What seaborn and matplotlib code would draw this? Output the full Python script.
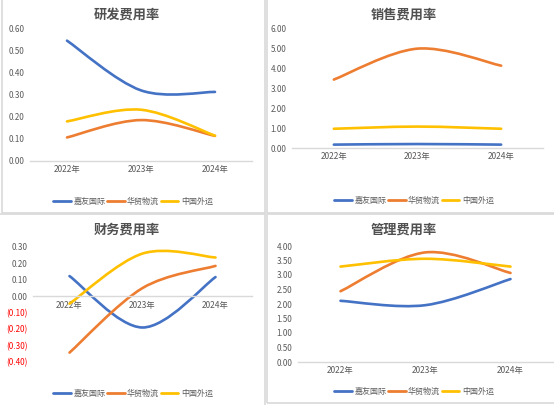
import numpy as np
import pandas as pd
import matplotlib
matplotlib.use("Agg")
import matplotlib.pyplot as plt
import seaborn as sns
from matplotlib.path import Path
from matplotlib.patches import PathPatch, Rectangle
from matplotlib.lines import Line2D

# ---------------- data ----------------
years = ["2022年", "2023年", "2024年"]
companies = ["嘉友国际", "华贸物流", "中国外运"]
colors = ["#4472C4", "#ED7D31", "#FFC000"]

rd_rate = {  # 研发费用率
    "嘉友国际": [0.547, 0.321, 0.314],
    "华贸物流": [0.107, 0.186, 0.114],
    "中国外运": [0.180, 0.233, 0.115],
}
sales_rate = {  # 销售费用率
    "嘉友国际": [0.17, 0.20, 0.17],
    "华贸物流": [3.45, 5.01, 4.15],
    "中国外运": [0.97, 1.08, 0.97],
}
fin_rate = {  # 财务费用率
    "嘉友国际": [0.123, -0.190, 0.117],
    "华贸物流": [-0.343, 0.050, 0.185],
    "中国外运": [-0.045, 0.260, 0.236],
}
mgmt_rate = {  # 管理费用率
    "嘉友国际": [2.11, 1.96, 2.86],
    "华贸物流": [2.44, 3.78, 3.07],
    "中国外运": [3.29, 3.56, 3.29],
}

rd_ticks = [0.0, 0.1, 0.2, 0.3, 0.4, 0.5, 0.6]
sales_ticks = [0, 1, 2, 3, 4, 5, 6]
fin_ticks = [-0.4, -0.3, -0.2, -0.1, 0.0, 0.1, 0.2, 0.3]
mgmt_ticks = [0.0, 0.5, 1.0, 1.5, 2.0, 2.5, 3.0, 3.5, 4.0]

# ---------------- style ----------------
sns.set_theme(style="white")
plt.rcParams["font.family"] = ["Noto Sans CJK SC", "DejaVu Sans"]

W, H = 554, 405
fig = plt.figure(figsize=(W / 100, H / 100), dpi=100)


def fx(px):
    return px / W


def fy(py):
    return 1 - py / H


def smooth_path(x, y):
    pts = np.column_stack([x, y]).astype(float)
    n = len(pts)
    verts = [pts[0]]
    codes = [Path.MOVETO]
    for i in range(n - 1):
        p0 = pts[max(i - 1, 0)]
        p1 = pts[i]
        p2 = pts[i + 1]
        p3 = pts[min(i + 2, n - 1)]
        c1 = p1 + (p2 - p0) / 6.0
        c2 = p2 - (p3 - p1) / 6.0
        verts += [c1, c2, p2]
        codes += [Path.CURVE4] * 3
    return Path(verts, codes)


def fmt(v):
    s = f"{abs(v):.2f}"
    return f"({s})" if v < -1e-9 else s


def panel(rect_px, title, title_xy, data, ticks, legend_xy, zero_axis=False):
    l, t, r, b = rect_px
    ax = fig.add_axes([fx(l), fy(b), fx(r - l), (b - t) / H])
    df = pd.DataFrame(
        [(i, c, v) for c in companies for i, v in enumerate(data[c])],
        columns=["year", "company", "value"],
    )
    sns.lineplot(data=df, x="year", y="value", hue="company",
                 hue_order=companies, palette=colors, ax=ax, legend=False,
                 linewidth=1.8)
    # replace straight segments by smoothed (Excel-like) curves
    for line, col in zip(list(ax.lines), colors):
        xy = line.get_xydata()
        line.set_visible(False)
        ax.add_patch(PathPatch(smooth_path(xy[:, 0], xy[:, 1]),
                               facecolor="none", edgecolor=col, lw=1.9,
                               capstyle="round", joinstyle="round"))
    ax.set_xlim(-0.5, 2.5)
    ax.set_ylim(min(ticks), max(ticks))
    ax.set_xticks(range(len(years)), years)
    ax.set_yticks(ticks, [fmt(v) for v in ticks])
    for lab, v in zip(ax.get_yticklabels(), ticks):
        lab.set_color("#FF0000" if v < -1e-9 else "#595959")
    ax.tick_params(axis="y", length=0, pad=4.0, labelsize=5.8)
    ax.tick_params(axis="x", length=0, pad=3.2, labelsize=6.0,
                   labelcolor="#595959")
    ax.set_xlabel("")
    ax.set_ylabel("")
    for s in ["top", "right", "left"]:
        ax.spines[s].set_visible(False)
    ax.spines["bottom"].set_color("#D9D9D9")
    ax.spines["bottom"].set_linewidth(1.0)
    if zero_axis:
        ax.spines["bottom"].set_position(("data", 0))
    ax.patch.set_alpha(0)
    fig.text(fx(title_xy[0]), fy(title_xy[1]), title, ha="center",
             va="center", fontsize=9.5, color="#505050", fontweight="bold")
    handles = [Line2D([], [], color=c, lw=2.0) for c in colors]
    fig.legend(handles, companies, loc="center", ncol=3, frameon=False,
               bbox_to_anchor=(fx(legend_xy[0]), fy(legend_xy[1])),
               fontsize=5.8, handlelength=2.2, handletextpad=0.3,
               columnspacing=0.2, labelcolor="#595959")
    return ax


# panel borders
for (x0, y0, x1, y1) in [(2, -2, 265, 213), (267, -2, 556, 213),
                         (-2, 214, 265, 407), (267, 214, 556, 403)]:
    fig.add_artist(Rectangle((fx(x0), fy(y1)), fx(x1 - x0), (y1 - y0) / H,
                             transform=fig.transFigure, facecolor="none",
                             edgecolor="#D9D9D9", lw=1.2))

panel((30, 29, 252, 161), "研发费用率", (127, 15), rd_rate, rd_ticks, (133, 201))
panel((292, 29, 543, 148), "销售费用率", (404, 15), sales_rate, sales_ticks, (414, 200))
panel((33, 247, 252, 362), "财务费用率", (127, 230), fin_rate, fin_ticks, (133, 393),
      zero_axis=True)
panel((298, 246, 553, 362), "管理费用率", (404, 230), mgmt_rate, mgmt_ticks, (414, 391))

fig.savefig("out.png", dpi=100)
